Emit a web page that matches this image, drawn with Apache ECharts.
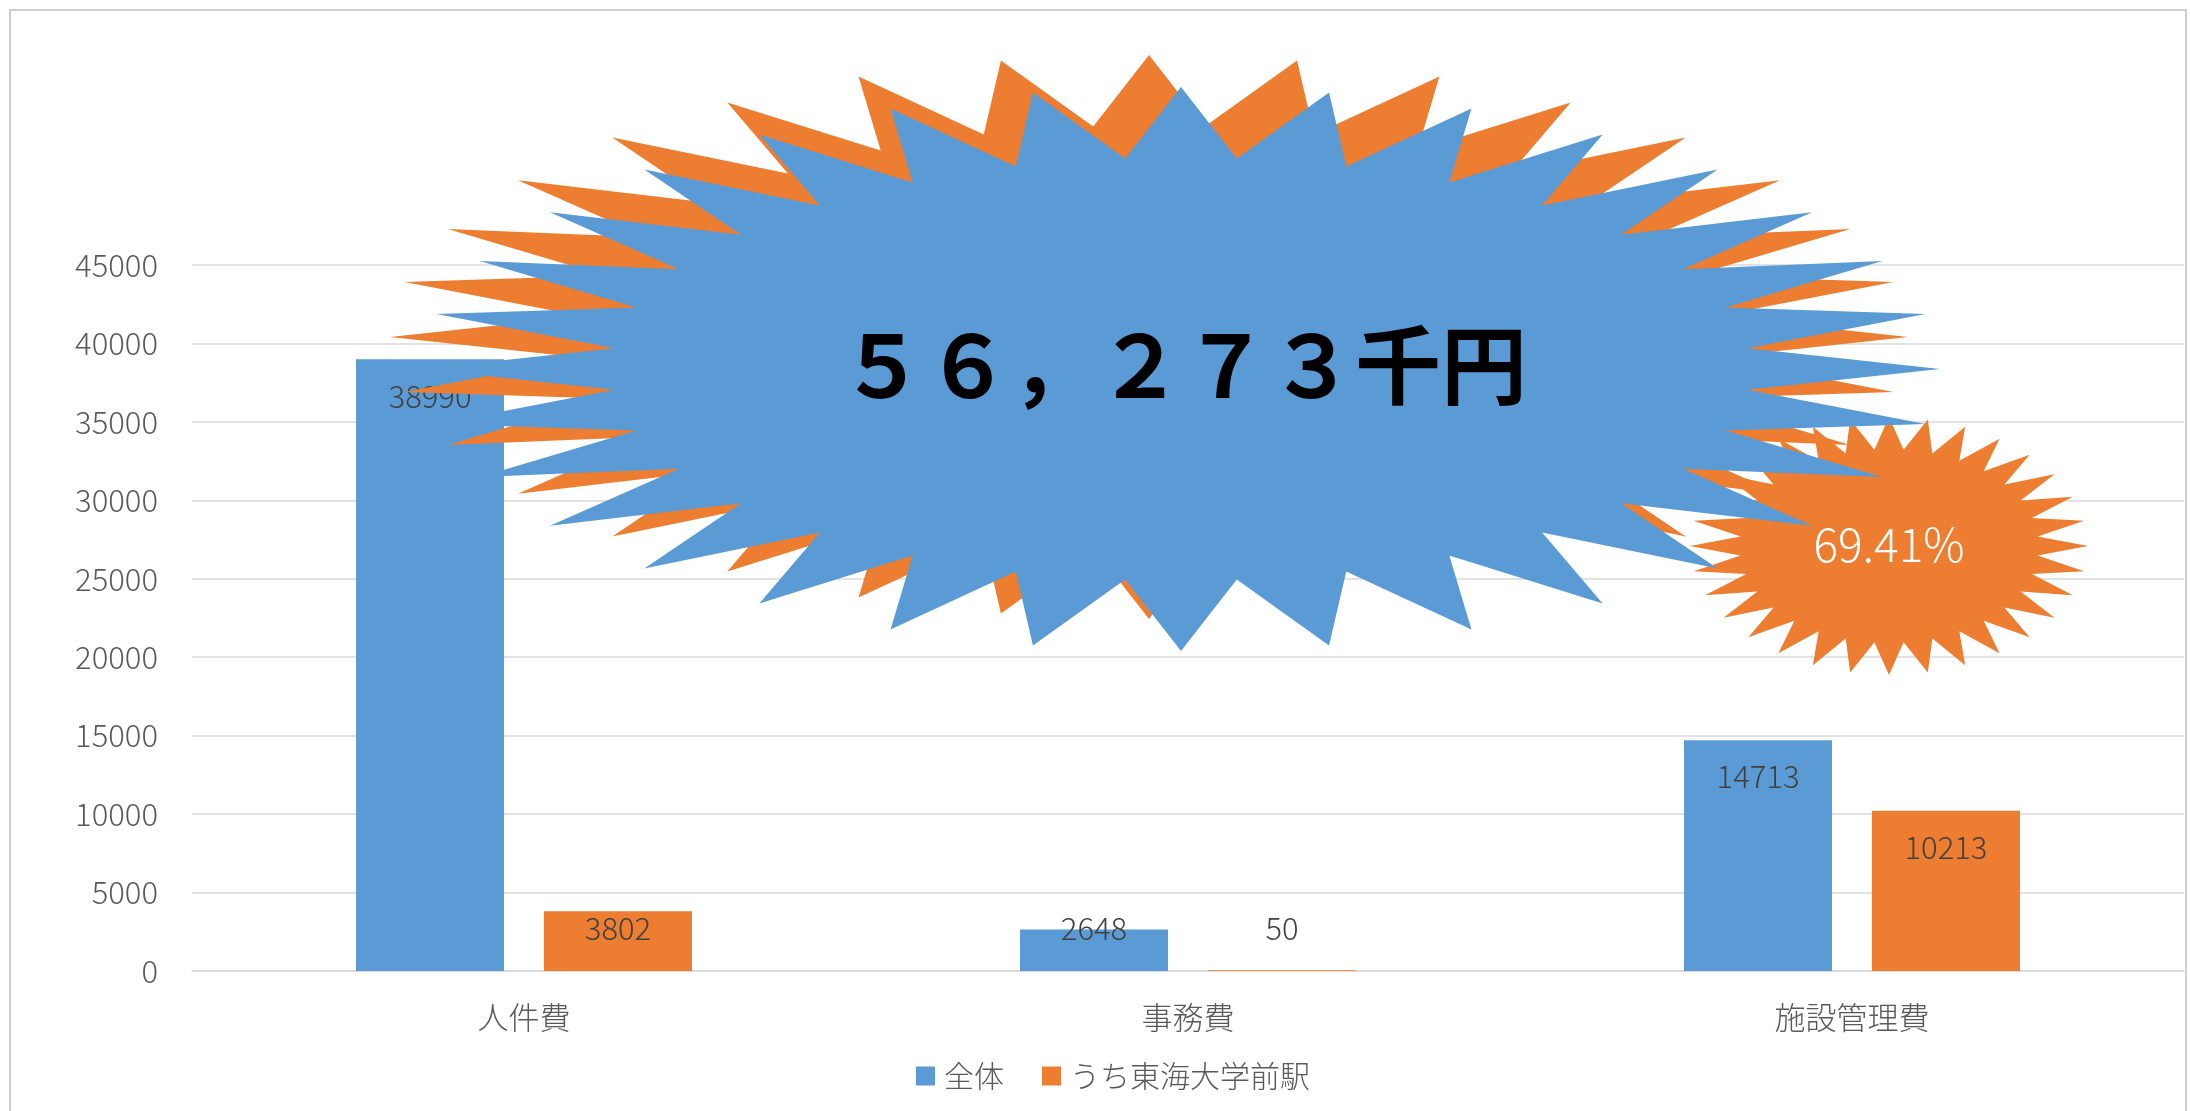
<!DOCTYPE html>
<html><head><meta charset="utf-8">
<script src="https://cdn.jsdelivr.net/npm/echarts@6/dist/echarts.min.js"></script>
<style>html,body{margin:0;padding:0;background:#fff}#c{width:2190px;height:1111px}</style>
</head><body><div id="c"></div>
<script>
// ---- data ----
const categories = ['人件費', '事務費', '施設管理費'];
const seriesNames = ['全体', 'うち東海大学前駅'];
const totalValues = [38990, 2648, 14713];
const stationValues = [3802, 50, 10213];
const yMin = 0, yMax = 45000, yStep = 5000;
const calloutTotalText = '５６，２７３千円';
// ratio shown in small callout: 施設管理費 (station / total)
const ratioText = (stationValues[2] / totalValues[2] * 100).toFixed(2) + '%';

// ---- styling ----
const BLUE = '#5B9BD5', ORANGE = '#ED7D31';
const FONT = '"Noto Sans CJK JP", "Noto Sans", sans-serif';
const GRAY = '#595959';

function star(cx, cy, rx, ry, n, inner) {
  const pts = [];
  for (let i = 0; i < 2 * n; i++) {
    const a = Math.PI / 2 - i * Math.PI / n;
    const r = i % 2 === 0 ? 1 : inner;
    pts.push([cx + rx * r * Math.cos(a), cy - ry * r * Math.sin(a)]);
  }
  return pts;
}

function barData(vals) {
  return vals.map(v => v < 5000
    ? { value: v, label: { position: 'insideBottom', distance: 27 } }
    : v);
}

const chart = echarts.init(document.getElementById('c'), null, { renderer: 'canvas' });
const labelStyle = { show: true, position: 'insideTop', distance: 21, color: '#404040',
  fontSize: 31, fontFamily: FONT, fontWeight: 300 };

chart.setOption({
  animation: false,
  backgroundColor: '#fff',
  grid: { left: 192, right: 6, top: 265, bottom: 140, containLabel: false },
  legend: {
    data: seriesNames, left: 911, top: 1056, itemWidth: 19, itemHeight: 19, itemGap: 38,
    icon: 'rect',
    textStyle: { fontSize: 30, color: GRAY, fontFamily: FONT, fontWeight: 300, padding: [0, 0, 0, 4] }
  },
  xAxis: {
    type: 'category', data: categories,
    axisLine: { show: true, lineStyle: { color: '#d9d9d9', width: 1.5 } },
    axisTick: { show: false },
    axisLabel: { fontSize: 31, color: GRAY, fontFamily: FONT, fontWeight: 300, margin: 31 }
  },
  yAxis: {
    type: 'value', min: yMin, max: yMax, interval: yStep,
    axisLine: { show: false }, axisTick: { show: false },
    splitLine: { lineStyle: { color: '#d9d9d9', width: 1.5 } },
    axisLabel: { fontSize: 31, color: GRAY, fontFamily: FONT, fontWeight: 300, margin: 34,
      formatter: v => String(v) }
  },
  series: [
    { name: seriesNames[0], type: 'bar', data: barData(totalValues), barWidth: 148, barGap: '27%',
      itemStyle: { color: BLUE }, label: labelStyle },
    { name: seriesNames[1], type: 'bar', data: barData(stationValues), barWidth: 148, barGap: '27%',
      itemStyle: { color: ORANGE }, label: labelStyle }
  ],
  graphic: [
    { type: 'rect', silent: true, z: 200, shape: { x: 10, y: 10, width: 2176, height: 1110 },
      style: { fill: 'none', stroke: '#bfbfbf', lineWidth: 1.5 } },
    { type: 'polygon', silent: true, z: 100, shape: { points: star(1149, 337, 759, 282, 32, 0.75) },
      style: { fill: ORANGE } },
    { type: 'polygon', silent: true, z: 101, shape: { points: star(1889, 546, 199, 129, 32, 0.75) },
      style: { fill: ORANGE } },
    { type: 'polygon', silent: true, z: 102, shape: { points: star(1181, 369, 759, 282, 32, 0.75) },
      style: { fill: BLUE } },
    { type: 'text', silent: true, z: 103, x: 1183, y: 365,
      style: { text: calloutTotalText, fill: '#000', fontSize: 86, fontWeight: 'bold', fontFamily: FONT,
        align: 'center', verticalAlign: 'middle' } },
    { type: 'text', silent: true, z: 103, x: 1889, y: 545,
      style: { text: ratioText, fill: '#fff', fontSize: 46, fontWeight: 300, fontFamily: FONT,
        align: 'center', verticalAlign: 'middle' } }
  ]
});
</script></body></html>
